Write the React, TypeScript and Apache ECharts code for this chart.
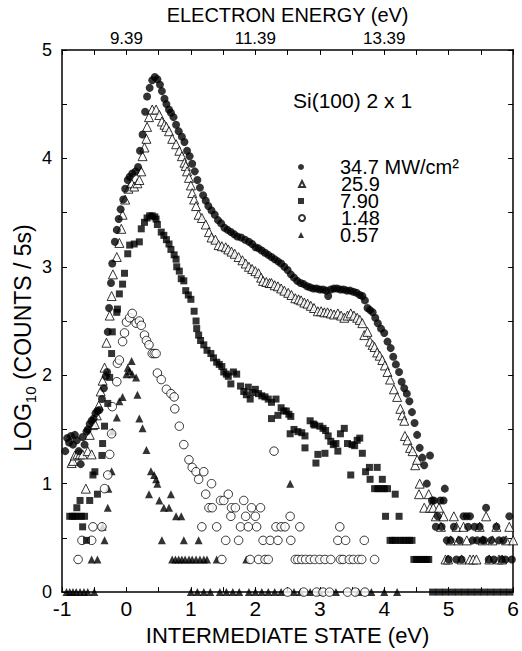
import React, { useEffect, useRef } from 'react';
import * as echarts from 'echarts';

const FONT = '"Liberation Sans", Arial, Helvetica, sans-serif';

// series names (legend)
const names = ['34.7 MW/cm²', '25.9', '7.90', '1.48', '0.57'];
// top-axis labels (electron energy = intermediate state + 9.39 eV)
const topLabels: Record<string, string> = { '0': '9.39', '2': '11.39', '4': '13.39' };

// 34.7 MW/cm2  (filled circles)
const s347: number[][] = [
  [-0.95,1.30],[-0.92,1.42],[-0.89,1.38],[-0.86,1.44],[-0.83,1.36],[-0.80,1.45],[-0.77,1.40],[-0.74,1.30],[-0.71,1.18],[-0.68,1.43],
  [-0.65,1.36],[-0.62,1.48],[-0.60,1.50],[-0.57,1.55],[-0.54,1.58],[-0.51,1.60],[-0.48,1.65],[-0.45,1.67],[-0.42,1.68],[-0.38,1.78],
  [-0.35,1.88],[-0.32,1.99],[-0.30,2.03],[-0.29,2.40],[-0.27,2.62],[-0.24,2.85],[-0.22,3.03],[-0.18,3.23],[-0.15,3.34],[-0.12,3.44],
  [-0.09,3.53],[-0.05,3.62],[-0.02,3.72],[0.02,3.80],[0.05,3.83],[0.09,3.86],[0.14,3.88],[0.18,3.92],[0.21,4.07],[0.25,4.22],
  [0.29,4.43],[0.32,4.57],[0.36,4.65],[0.40,4.72],[0.44,4.75],[0.48,4.73],[0.52,4.68],[0.55,4.62],[0.59,4.55],[0.62,4.50],
  [0.66,4.45],[0.69,4.42],[0.73,4.38],[0.77,4.31],[0.81,4.25],[0.86,4.20],[0.90,4.15],[0.94,4.07],[0.98,4.02],[1.02,3.95],
  [1.06,3.88],[1.10,3.80],[1.14,3.73],[1.19,3.66],[1.23,3.61],[1.27,3.56],[1.32,3.52],[1.37,3.48],[1.42,3.43],[1.47,3.40],
  [1.52,3.36],[1.57,3.34],[1.62,3.32],[1.67,3.30],[1.72,3.28],[1.78,3.27],[1.84,3.25],[1.90,3.23],[1.95,3.21],[2.00,3.18],
  [2.05,3.17],[2.10,3.15],[2.15,3.13],[2.20,3.11],[2.25,3.09],[2.30,3.07],[2.35,3.05],[2.40,3.03],[2.45,3.00],[2.50,2.97],
  [2.55,2.93],[2.60,2.90],[2.65,2.87],[2.70,2.85],[2.75,2.84],[2.80,2.82],[2.85,2.81],[2.90,2.80],[2.95,2.80],[3.00,2.79],
  [3.05,2.79],[3.10,2.78],[3.13,2.73],[3.17,2.79],[3.22,2.80],[3.27,2.80],[3.32,2.79],[3.37,2.79],[3.42,2.78],[3.47,2.78],
  [3.52,2.77],[3.57,2.76],[3.62,2.74],[3.66,2.73],[3.70,2.69],[3.74,2.62],[3.78,2.60],[3.82,2.58],[3.86,2.53],[3.90,2.48],
  [3.95,2.43],[4.00,2.39],[4.05,2.31],[4.10,2.25],[4.14,2.17],[4.18,2.10],[4.23,2.03],[4.27,1.94],[4.31,1.88],[4.35,1.83],
  [4.39,1.76],[4.43,1.66],[4.47,1.56],[4.51,1.45],[4.55,1.33],[4.59,1.24],[4.62,1.17],[4.66,1.00],[4.71,1.26],[4.74,0.845],
  [4.77,0.845],[4.80,0.602],[4.83,0.699],[4.87,0.845],[4.89,0.602],[4.92,0.845],[4.94,0.954],[4.97,0.477],[5.00,0.301],[5.03,0.477],
  [5.08,0.602],[5.12,0.301],[5.17,0.477],[5.20,0.301],[5.23,0.699],[5.28,0.699],[5.30,0.602],[5.33,0.699],[5.37,0.477],[5.40,0.602],
  [5.44,0.477],[5.48,0.602],[5.52,0.477],[5.55,0.477],[5.58,0.778],[5.62,0.301],[5.66,0.477],[5.70,0.301],[5.74,0.602],[5.78,0.477],
  [5.82,0.301],[5.85,0.477],[5.88,0.301],[5.94,0.699],[5.98,0.301]
];

// 25.9 (open triangles)
const s259: number[][] = [
  [-0.85,1.19],[-0.83,1.21],[-0.80,1.26],[-0.76,1.27],[-0.72,1.27],[-0.68,1.27],[-0.63,0.954],[-0.60,1.30],[-0.57,1.45],[-0.54,1.27],
  [-0.52,1.54],[-0.49,1.55],[-0.46,1.63],[-0.43,1.72],[-0.40,1.85],[-0.37,1.95],[-0.34,2.07],[-0.31,2.30],[-0.26,2.55],[-0.23,2.73],
  [-0.21,2.93],[-0.15,3.09],[-0.11,3.22],[-0.08,3.35],[-0.06,3.48],[-0.02,3.62],[0.03,3.72],[0.08,3.77],[0.12,3.74],[0.17,3.77],
  [0.20,3.80],[0.23,3.88],[0.25,4.02],[0.28,4.10],[0.31,4.18],[0.32,4.29],[0.35,4.38],[0.40,4.45],[0.46,4.45],[0.51,4.40],
  [0.55,4.34],[0.59,4.31],[0.62,4.29],[0.66,4.25],[0.71,4.18],[0.77,4.13],[0.82,4.07],[0.86,4.02],[0.90,3.96],[0.92,3.93],
  [0.94,3.88],[0.97,3.82],[1.00,3.75],[1.02,3.68],[1.05,3.62],[1.08,3.56],[1.12,3.48],[1.17,3.45],[1.23,3.39],[1.28,3.32],
  [1.32,3.27],[1.38,3.25],[1.43,3.20],[1.48,3.19],[1.54,3.18],[1.58,3.16],[1.63,3.14],[1.68,3.12],[1.74,3.09],[1.80,3.06],
  [1.85,3.03],[1.90,3.00],[1.95,2.98],[2.00,2.96],[2.05,2.94],[2.09,2.90],[2.12,2.87],[2.17,2.86],[2.22,2.85],[2.25,2.85],
  [2.30,2.83],[2.35,2.82],[2.40,2.80],[2.45,2.78],[2.51,2.76],[2.56,2.74],[2.62,2.71],[2.67,2.70],[2.71,2.69],[2.76,2.67],
  [2.81,2.66],[2.86,2.64],[2.91,2.62],[2.97,2.59],[3.02,2.59],[3.07,2.58],[3.12,2.58],[3.17,2.57],[3.22,2.56],[3.28,2.57],
  [3.33,2.55],[3.38,2.53],[3.43,2.55],[3.48,2.57],[3.53,2.55],[3.58,2.53],[3.62,2.51],[3.66,2.48],[3.69,2.37],[3.74,2.40],
  [3.78,2.31],[3.82,2.28],[3.85,2.26],[3.89,2.21],[3.93,2.18],[3.97,2.14],[4.01,2.09],[4.05,2.03],[4.09,1.96],[4.15,1.87],
  [4.20,1.80],[4.25,1.69],[4.28,1.63],[4.31,1.58],[4.32,1.44],[4.36,1.40],[4.40,1.33],[4.44,1.30],[4.48,1.17],[4.51,1.22],
  [4.54,0.903],[4.55,1.00],[4.62,0.778],[4.69,0.903],[4.71,0.778],[4.76,0.778],[4.80,0.699],[4.85,0.778],[4.88,0.602],[4.92,0.699],
  [4.95,0.301],[4.99,0.301],[5.03,0.477],[5.08,0.699],[5.12,0.602],[5.15,0.477],[5.20,0.301],[5.23,0.602],[5.28,0.477],[5.33,0.301],
  [5.38,0.301],[5.43,0.301],[5.48,0.602],[5.53,0.477],[5.58,0.699],[5.63,0.301],[5.68,0.477],[5.74,0.602],[5.78,0.301],[5.83,0.301],
  [5.89,0.477],[5.94,0.602],[6.00,0.477]
];

// 7.90 (filled squares)
const s790: number[][] = [
  [-0.88,0.699],[-0.84,0.699],[-0.80,0.699],[-0.77,0.778],[-0.76,0.699],[-0.72,0.845],[-0.70,0.699],[-0.68,0.602],[-0.65,0.699],[-0.62,0.477],
  [-0.57,0.845],[-0.52,1.08],[-0.49,1.11],[-0.45,0.903],[-0.38,1.26],[-0.37,1.37],[-0.34,1.53],[-0.29,1.74],[-0.26,1.98],[-0.23,2.20],
  [-0.22,2.40],[-0.15,2.58],[-0.14,2.61],[-0.11,2.75],[-0.06,2.84],[-0.03,2.94],[0.02,3.12],[0.05,3.20],[0.12,3.21],[0.20,3.23],
  [0.23,3.35],[0.28,3.41],[0.32,3.45],[0.36,3.47],[0.40,3.47],[0.44,3.46],[0.46,3.44],[0.48,3.39],[0.54,3.32],[0.58,3.29],
  [0.62,3.25],[0.66,3.21],[0.69,3.16],[0.74,3.11],[0.77,3.07],[0.78,3.00],[0.82,2.96],[0.85,2.89],[0.89,2.87],[0.92,2.78],
  [0.96,2.74],[1.00,2.70],[1.05,2.59],[1.08,2.50],[1.09,2.43],[1.12,2.37],[1.15,2.32],[1.20,2.28],[1.25,2.23],[1.31,2.20],
  [1.35,2.16],[1.40,2.12],[1.44,2.10],[1.48,2.08],[1.51,2.03],[1.55,2.01],[1.58,1.99],[1.62,1.92],[1.66,2.03],[1.71,2.01],
  [1.77,1.90],[1.82,1.85],[1.86,1.82],[1.89,1.89],[1.92,1.78],[1.96,1.84],[2.00,1.87],[2.05,1.83],[2.10,1.81],[2.15,1.80],
  [2.20,1.78],[2.25,1.75],[2.25,1.60],[2.32,1.78],[2.35,1.63],[2.40,1.70],[2.44,1.67],[2.48,1.67],[2.52,1.64],[2.55,1.62],
  [2.54,1.46],[2.60,1.50],[2.66,1.48],[2.72,1.47],[2.77,1.44],[2.77,1.33],[2.85,1.58],[2.90,1.55],[2.92,1.54],[2.94,1.19],
  [2.97,1.27],[3.00,1.53],[3.05,1.51],[3.08,1.28],[3.09,1.49],[3.13,1.44],[3.17,1.39],[3.21,1.36],[3.25,1.37],[3.28,1.30],
  [3.32,1.46],[3.38,1.51],[3.43,1.37],[3.48,1.08],[3.50,1.36],[3.54,1.35],[3.58,1.40],[3.62,1.42],[3.66,1.28],[3.71,1.11],
  [3.77,1.15],[3.78,1.04],[3.85,0.954],[3.89,1.15],[3.90,0.954],[3.95,0.954],[3.97,1.04],[4.00,0.954],[4.02,0.699],[4.05,0.954],
  [4.09,0.477],[4.13,0.477],[4.17,0.903],[4.18,0.477],[4.23,0.699],[4.24,0.477],[4.29,0.477],[4.34,0.477],[4.39,0.477],[4.43,0.477],
  [4.46,0.301],[4.50,0.301],[4.54,0.301],[4.58,0.301],[4.62,0.301],[4.66,0.301],[4.69,0.301],[4.75,0],[4.85,0],[4.95,0],
  [5.05,0],[5.15,0],[5.25,0],[5.35,0],[5.45,0],[5.55,0],[5.65,0],[5.75,0],[5.85,0],[5.95,0]
];

// 1.48 (open circles)
const s148: number[][] = [
  [-0.75,0.301],[-0.69,0.477],[-0.54,0.477],[-0.52,0.602],[-0.38,0.602],[-0.34,0.954],[-0.29,1.08],[-0.26,1.27],[-0.23,1.46],[-0.22,1.71],
  [-0.15,1.94],[-0.14,2.11],[-0.11,2.14],[-0.06,2.31],[-0.03,2.39],[0.00,2.49],[0.05,2.53],[0.09,2.57],[0.15,2.48],[0.20,2.50],
  [0.23,2.46],[0.28,2.37],[0.31,2.32],[0.35,2.28],[0.40,2.20],[0.43,2.20],[0.46,2.20],[0.48,2.02],[0.54,1.96],[0.62,1.87],
  [0.69,1.83],[0.74,1.80],[0.75,1.69],[0.82,1.53],[0.89,1.36],[0.97,1.22],[1.02,1.15],[1.08,1.11],[1.12,1.04],[1.17,0.602],
  [1.20,1.11],[1.23,0.903],[1.28,0.778],[1.32,1.00],[1.33,0.778],[1.40,0.602],[1.46,0.845],[1.48,0.301],[1.51,0.845],[1.54,0.477],
  [1.58,0.903],[1.62,0.699],[1.63,0.778],[1.69,0.778],[1.74,0.477],[1.77,0.602],[1.82,0.845],[1.85,0.699],[1.89,0.602],[1.92,0.301],
  [1.94,0.778],[2.00,0.699],[2.02,0.602],[2.05,0.301],[2.08,0.778],[2.12,0.477],[2.15,0.301],[2.20,0.301],[2.23,0.477],[2.29,1.30],
  [2.32,0.602],[2.35,0.477],[2.40,0.602],[2.46,0.602],[2.50,0],[2.54,0.699],[2.55,0.477],[2.62,0.301],[2.66,0.301],[2.69,0.602],
  [2.72,0.301],[2.75,0],[2.78,0.301],[2.85,0.301],[2.92,0.301],[2.95,0],[3.00,0.301],[3.05,0],[3.08,0.301],[3.15,0],
  [3.17,0.301],[3.28,0.477],[3.31,0.602],[3.32,0.301],[3.36,0.301],[3.40,0.477],[3.43,0],[3.46,0.301],[3.52,0.301],[3.55,0],
  [3.60,0.301],[3.65,0.301],[3.69,0.477],[3.70,0],[3.85,0.301]
];

// 0.57 (filled triangles)
const s057: number[][] = [
  [-0.93,0],[-0.88,0],[-0.83,0],[-0.78,0],[-0.72,0],[-0.66,0],[-0.60,0],[-0.54,0.301],[-0.50,0],[-0.45,0.301],
  [-0.37,0.602],[-0.34,0.477],[-0.29,0.778],[-0.28,0.954],[-0.23,1.114],[-0.22,1.48],[-0.15,1.61],[-0.11,1.76],[-0.06,1.80],[0.00,2.01],
  [0.02,2.07],[0.05,2.04],[0.08,2.13],[0.09,2.01],[0.15,1.98],[0.17,1.82],[0.20,1.60],[0.25,1.51],[0.31,1.31],[0.35,0.903],
  [0.38,1.114],[0.43,1.08],[0.46,1.04],[0.48,1.00],[0.51,0.845],[0.55,0.477],[0.58,0.778],[0.66,0.778],[0.69,0.903],[0.71,0.301],
  [0.76,0.301],[0.77,0.699],[0.81,0.301],[0.85,0.699],[0.86,0.301],[0.89,0.477],[0.91,0.301],[0.97,0.301],[1.00,0],[1.02,0.301],
  [1.08,0.301],[1.10,0],[1.12,0.477],[1.14,0.301],[1.20,0],[1.20,0.301],[1.25,0.301],[1.30,0],[1.40,0.301],[1.45,0],
  [1.55,0],[1.65,0],[1.75,0],[1.86,0.301],[1.90,0],[2.00,0],[2.10,0],[2.20,0],[2.30,0],[2.40,0],
  [2.54,1.00],[2.60,0],[2.70,0],[2.85,0],[3.00,0],[3.25,0],[3.60,0],[3.80,0],[4.00,0],[4.20,0]
];

export default function App() {
  const ref = useRef<HTMLDivElement>(null);
  useEffect(() => {
    if (!ref.current) return;
    const chart = echarts.init(ref.current, null, { renderer: 'svg' });
    const black = '#000';
    const axisCommon = {
      type: 'value' as const,
      min: -1,
      max: 6,
      interval: 0.5,
      axisLine: { show: true, onZero: false, lineStyle: { color: black, width: 1.5 } },
      axisTick: { show: true, inside: true, length: 5, lineStyle: { color: black, width: 1 } },
      splitLine: { show: false },
    };
    const yCommon = {
      type: 'value' as const,
      min: 0,
      max: 5,
      interval: 0.5,
      axisLine: { show: true, onZero: false, lineStyle: { color: black, width: 1.5 } },
      axisTick: { show: true, inside: true, length: 5, lineStyle: { color: black, width: 1 } },
      splitLine: { show: false },
    };
    const filled = { color: black };
    const open = { color: '#fff', borderColor: black, borderWidth: 1 };
    // one legend component per row so that rows sit 17 px apart
    const legends = names.map((n, i) => ({
      orient: 'vertical',
      left: 298,
      top: 157 + i * 17,
      itemWidth: 6,
      itemHeight: 6,
      itemGap: 0,
      padding: 0,
      selectedMode: false,
      data: [n],
      formatter: (s: string) => '{g|}' + s,
      textStyle: {
        color: black, fontSize: 20, fontFamily: FONT,
        rich: { g: { width: 31 } },
      },
    }));
    chart.setOption({
      animation: false,
      backgroundColor: '#fff',
      textStyle: { fontFamily: FONT },
      grid: { left: 62, right: 5, top: 44, bottom: 54, containLabel: false },
      xAxis: [
        {
          ...axisCommon,
          position: 'bottom',
          axisLabel: {
            color: black, fontSize: 21, fontFamily: FONT, margin: 6,
            formatter: (v: number) => (Number.isInteger(v) ? String(v) : ''),
          },
          name: 'INTERMEDIATE STATE (eV)',
          nameLocation: 'middle',
          nameGap: 25,
          nameTextStyle: { color: black, fontSize: 22, fontFamily: FONT },
        },
        {
          ...axisCommon,
          position: 'top',
          axisLabel: {
            color: black, fontSize: 17, fontFamily: FONT, margin: 3,
            formatter: (v: number) => topLabels[String(v)] || '',
          },
          name: 'ELECTRON ENERGY (eV)',
          nameLocation: 'middle',
          nameGap: 19,
          nameTextStyle: { color: black, fontSize: 20, fontFamily: FONT },
        },
      ],
      yAxis: [
        {
          ...yCommon,
          position: 'left',
          axisLabel: {
            color: black, fontSize: 18, fontFamily: FONT, margin: 10,
            formatter: (v: number) => (Number.isInteger(v) ? String(v) : ''),
          },
        },
        {
          ...yCommon,
          position: 'right',
          axisLabel: { show: false },
        },
      ],
      legend: legends,
      graphic: [
        {
          type: 'text',
          left: 293,
          top: 90,
          style: { text: 'Si(100) 2 x 1', fontSize: 21, fontFamily: FONT, fill: black },
        },
        {
          type: 'text',
          x: 23,
          y: 338,
          rotation: Math.PI / 2,
          style: {
            text: '{a|LOG}{b|10}{a| (COUNTS / 5s)}',
            align: 'center',
            verticalAlign: 'middle',
            fill: black,
            rich: {
              a: { fontSize: 23, fontFamily: FONT, lineHeight: 30, fill: black },
              b: { fontSize: 15, fontFamily: FONT, verticalAlign: 'bottom', fill: black },
            },
          },
        },
      ],
      series: [
        { name: names[0], type: 'scatter', data: s347, symbol: 'circle', symbolSize: 8, itemStyle: filled, z: 5 },
        { name: names[1], type: 'scatter', data: s259, symbol: 'triangle', symbolSize: 9, itemStyle: open, z: 4 },
        { name: names[2], type: 'scatter', data: s790, symbol: 'rect', symbolSize: 7, itemStyle: filled, z: 3 },
        { name: names[3], type: 'scatter', data: s148, symbol: 'circle', symbolSize: 8.5, itemStyle: open, z: 2 },
        { name: names[4], type: 'scatter', data: s057, symbol: 'triangle', symbolSize: 8, itemStyle: filled, z: 1 },
      ],
    });
    return () => chart.dispose();
  }, []);
  return (
    <div
      ref={ref}
      style={{ position: 'fixed', left: 0, top: 0, width: 522, height: 651, background: '#fff' }}
    />
  );
}
